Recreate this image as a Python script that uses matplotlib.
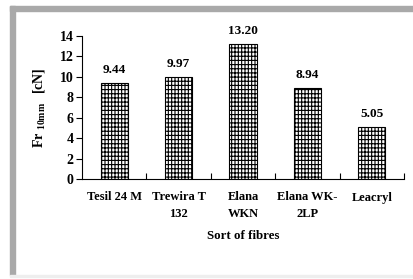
import matplotlib.pyplot as plt
from matplotlib.patches import Rectangle

plt.rcParams['font.family'] = ['Liberation Serif', 'DejaVu Serif']
plt.rcParams['font.weight'] = 'bold'
plt.rcParams['mathtext.fontset'] = 'custom'
plt.rcParams['mathtext.rm'] = 'Liberation Serif:bold'
plt.rcParams['mathtext.bf'] = 'Liberation Serif:bold'
plt.rcParams['hatch.linewidth'] = 0.8

# data
fibres = ['Tesil 24 M', 'Trewira T\n132', 'Elana\nWKN', 'Elana WK-\n2LP', 'Leacryl']
fr_values = [9.44, 9.97, 13.20, 8.94, 5.05]
y_ticks = [0, 2, 4, 6, 8, 10, 12, 14]

W, H = 414, 279
fig = plt.figure(figsize=(W / 100, H / 100), dpi=100)

# grey frame (left and top), faint line at bottom
gray = '#a9a9a9'
fig.patches.append(Rectangle((10 / W, 1 - 275 / H), 5 / W, 269 / H,
                             transform=fig.transFigure, color=gray, zorder=0))
fig.patches.append(Rectangle((10 / W, 1 - 11 / H), (W - 10) / W, 5 / H,
                             transform=fig.transFigure, color=gray, zorder=0))
fig.patches.append(Rectangle((10 / W, 1 - 277 / H), (W - 10) / W, 2 / H,
                             transform=fig.transFigure, color='#eeeeee', zorder=0))

ax = fig.add_axes([82 / W, 1 - 179 / H, (404 - 82) / W, (179 - 36) / H])
x = range(len(fibres))
bars = ax.bar(x, fr_values, width=0.42, color='white', edgecolor='black',
              linewidth=0.8, hatch='|||||----')

for xi, v in zip(x, fr_values):
    ax.annotate('%.2f' % v, (xi, v), xytext=(0, 5), textcoords='offset points',
                ha='center', va='bottom', fontsize=9.5, fontweight='bold')

ax.set_xlim(-0.5, len(fibres) - 0.5)
ax.set_ylim(0, 14)
ax.set_yticks(y_ticks)
ax.set_xticks([i + 0.5 for i in range(len(fibres))])
ax.set_xticklabels([])
ax.set_xticks(list(x), minor=True)
ax.set_xticklabels(fibres, minor=True, fontsize=9, fontweight='bold', linespacing=1.5)
ax.tick_params(axis='x', which='minor', length=0, pad=9)
ax.tick_params(axis='x', which='major', direction='in', length=4, width=0.8)
ax.tick_params(axis='y', direction='out', length=4, width=0.8, labelsize=10, pad=2)
for lab in ax.get_yticklabels():
    lab.set_fontweight('bold')

for s in ['top', 'right']:
    ax.spines[s].set_visible(False)
for s in ['left', 'bottom']:
    ax.spines[s].set_linewidth(0.8)

ax.set_xlabel('Sort of fibres', fontsize=9.3, fontweight='bold', labelpad=7)
ax.set_ylabel(r'Fr $_{\mathrm{10mm}}\ \ $[cN]', fontsize=10, fontweight='bold', labelpad=9)

fig.savefig('out.png', dpi=100)
